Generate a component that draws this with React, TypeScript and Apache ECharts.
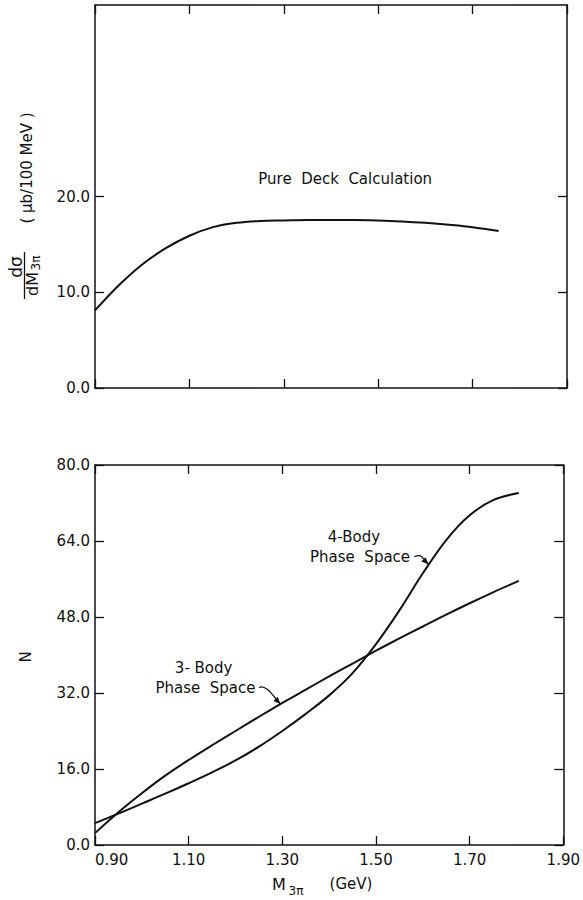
import React, { useEffect, useRef } from "react";
import * as echarts from "echarts";

// ---------------- data ----------------
const deckX = [0.9, 0.95, 1.0, 1.05, 1.1, 1.15, 1.2, 1.25, 1.3, 1.35, 1.4, 1.45, 1.5, 1.55, 1.6, 1.65, 1.7, 1.755];
const deckY = [8.1, 10.7, 12.9, 14.6, 15.9, 16.8, 17.25, 17.45, 17.5, 17.55, 17.55, 17.55, 17.5, 17.4, 17.25, 17.05, 16.8, 16.4];

const phaseX = [0.9, 0.95, 1.0, 1.05, 1.1, 1.15, 1.2, 1.25, 1.3, 1.35, 1.4, 1.45, 1.5, 1.55, 1.6, 1.65, 1.7, 1.75, 1.805];
const threeBodyY = [2.5, 6.9, 10.9, 14.6, 17.9, 21.0, 24.0, 27.0, 29.9, 32.7, 35.5, 38.2, 40.9, 43.5, 46.0, 48.5, 50.9, 53.2, 55.6];
const fourBodyY = [4.6, 6.6, 8.7, 10.8, 13.0, 15.3, 17.8, 20.7, 24.0, 27.6, 31.5, 36.2, 42.3, 49.4, 57.2, 64.2, 69.4, 72.6, 74.1];

const topYLabels = [0, 10, 20];
const bottomYTicks = [0, 16, 32, 48, 64, 80];
const xTickValues = [0.9, 1.1, 1.3, 1.5, 1.7, 1.9];

const FONT = "'DejaVu Sans', sans-serif";
const INK = "#111";

const zip = (xs: number[], ys: number[]) => xs.map((x, i) => [x, ys[i]]);

export default function App() {
  const ref = useRef<HTMLDivElement>(null);
  useEffect(() => {
    if (!ref.current) return;
    const chart = echarts.init(ref.current, null, { renderer: "svg" });

    const axisLine = { show: true, onZero: false, lineStyle: { color: INK, width: 1.5 } };
    const tick = { show: true, inside: true, length: 9, lineStyle: { color: INK, width: 1.3 } };
    const xBase = (grid: number, pos: "top" | "bottom", labels: boolean) => ({
      type: "value" as const,
      gridIndex: grid,
      position: pos,
      min: 0.9,
      max: 1.9,
      interval: 0.2,
      axisLine,
      axisTick: tick,
      splitLine: { show: false },
      axisLabel: labels
        ? {
            show: true,
            color: INK,
            fontFamily: FONT,
            fontSize: 15,
            margin: 7,
            alignMinLabel: "left",
            customValues: xTickValues,
            formatter: (v: number) => v.toFixed(2),
          }
        : { show: false },
    });

    const yBase = (grid: number, pos: "left" | "right", max: number, interval: number, labelVals: number[] | null, tickVals?: number[]) => ({
      type: "value" as const,
      gridIndex: grid,
      position: pos,
      min: 0,
      max,
      interval,
      axisLine,
      axisTick: tickVals ? { ...tick, customValues: tickVals } : tick,
      splitLine: { show: false },
      axisLabel: labelVals
        ? {
            show: true,
            color: INK,
            fontFamily: FONT,
            fontSize: 15,
            margin: 5,
            customValues: labelVals,
            formatter: (v: number) => (labelVals.includes(v) ? v.toFixed(1) : ""),
          }
        : { show: false },
    });

    const lineSeries = (name: string, axis: number, data: number[][]) => ({
      name,
      type: "line",
      xAxisIndex: axis,
      yAxisIndex: axis,
      data,
      smooth: 0.35,
      showSymbol: false,
      lineStyle: { color: INK, width: 2 },
    });

    const option: any = {
      animation: false,
      backgroundColor: "#fff",
      grid: [
        { left: 95, top: 5, width: 472, height: 383 },
        { left: 95, top: 465, width: 472, height: 380 },
      ],
      xAxis: [xBase(0, "bottom", false), xBase(0, "top", false), xBase(1, "bottom", true), xBase(1, "top", false)],
      yAxis: [
        yBase(0, "left", 40, 10, topYLabels, topYLabels),
        yBase(0, "right", 40, 10, null, topYLabels),
        yBase(1, "left", 80, 16, bottomYTicks),
        yBase(1, "right", 80, 16, null),
      ],
      series: [
        lineSeries("Pure Deck Calculation", 0, zip(deckX, deckY)),
        lineSeries("3-Body Phase Space", 2, zip(phaseX, threeBodyY)),
        lineSeries("4-Body Phase Space", 2, zip(phaseX, fourBodyY)),
      ],
    };
    chart.setOption(option);

    const px = (grid: number, x: number, y: number) =>
      chart.convertToPixel({ xAxisIndex: grid === 0 ? 0 : 2, yAxisIndex: grid === 0 ? 0 : 2 }, [x, y]) as number[];

    const txt = (x: number, y: number, text: string, size = 15, extra: any = {}) => ({
      type: "text",
      x,
      y,
      ...extra,
      style: {
        text,
        fontFamily: FONT,
        fontSize: size,
        fill: INK,
        align: "center",
        verticalAlign: "middle",
        ...(extra.style || {}),
      },
    });

    const leader = (from: number[], to: number[]) => {
      const [x1, y1] = from;
      const [x2, y2] = to;
      const c2x = x2 - 7;
      const c2y = y2 - 7;
      const ang = Math.atan2(y2 - c2y, x2 - c2x);
      const L = 7;
      const W = 3;
      const bx = x2 - L * Math.cos(ang);
      const by = y2 - L * Math.sin(ang);
      const nx = -Math.sin(ang);
      const ny = Math.cos(ang);
      return [
        {
          type: "bezierCurve",
          shape: { x1, y1, cpx1: x1 + 8, cpy1: y1 - 3, cpx2: c2x, cpy2: c2y, x2, y2 },
          style: { stroke: INK, lineWidth: 1.3, fill: "none" },
        },
        {
          type: "polygon",
          shape: {
            points: [
              [x2, y2],
              [bx + nx * W, by + ny * W],
              [bx - nx * W, by - ny * W],
            ],
          },
          style: { fill: INK },
        },
      ];
    };

    const p4a = px(1, 1.453, 64.8);
    const p4b = px(1, 1.466, 60.6);
    const p4s = px(1, 1.582, 60.7);
    const p4e = px(1, 1.612, 59.1);
    const p3a = px(1, 1.132, 37.3);
    const p3b = px(1, 1.136, 33.1);
    const p3s = px(1, 1.25, 33.2);
    const p3e = px(1, 1.296, 29.7);
    const pDeck = px(0, 1.43, 21.8);

    const graphic: any[] = [
      txt(pDeck[0], pDeck[1], "Pure  Deck  Calculation", 15),
      // top-panel y title
      txt(27, 168, "( μb/100 MeV )", 15, { rotation: Math.PI / 2 }),
      txt(16, 267, "dσ", 17, { rotation: Math.PI / 2 }),
      {
        type: "line",
        shape: { x1: 24.5, y1: 252, x2: 24.5, y2: 299 },
        style: { stroke: INK, lineWidth: 1.3 },
      },
      txt(32, 284, "dM", 16, { rotation: Math.PI / 2 }),
      txt(36, 263, "3π", 12, { rotation: Math.PI / 2 }),
      // bottom panel titles
      txt(26, 657, "N", 15, { rotation: Math.PI / 2 }),
      txt(279, 884, "M", 16),
      txt(296, 891, "3π", 12),
      txt(351, 884, "(GeV)", 15),
      // annotations
      txt(p4a[0], p4a[1], "4-Body", 15),
      txt(p4b[0], p4b[1], "Phase  Space", 15),
      ...leader(p4s, p4e),
      txt(p3a[0], p3a[1], "3- Body", 15),
      txt(p3b[0], p3b[1], "Phase  Space", 15),
      ...leader(p3s, p3e),
    ];
    chart.setOption({ graphic });

    return () => chart.dispose();
  }, []);

  return <div ref={ref} style={{ position: "absolute", left: 0, top: 0, width: 583, height: 900 }} />;
}
